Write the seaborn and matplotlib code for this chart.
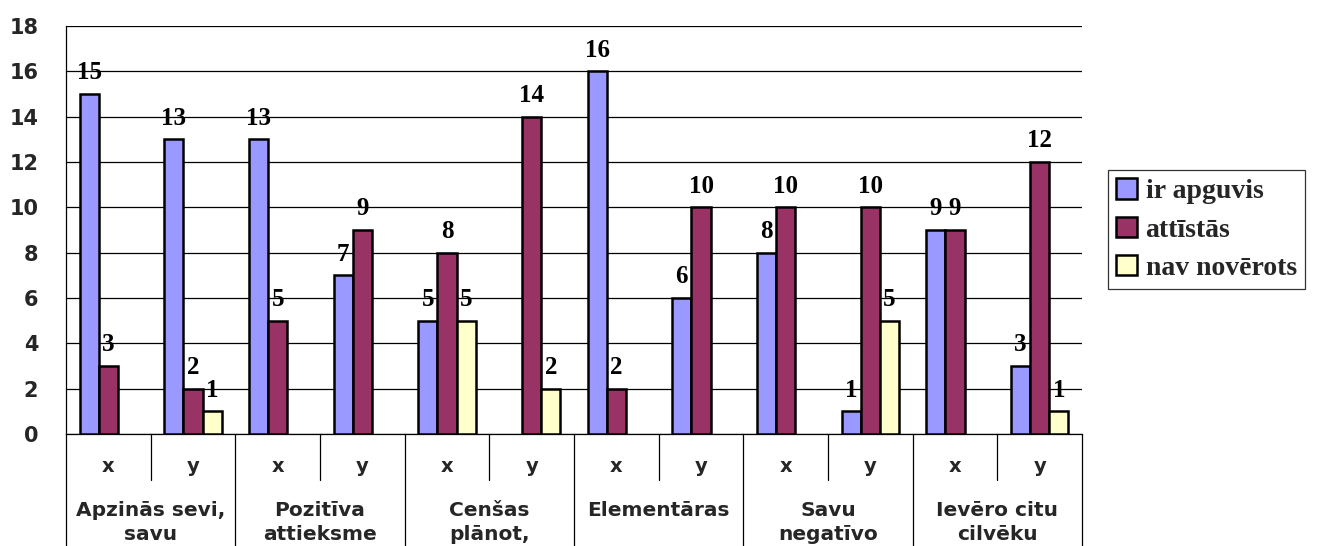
import matplotlib
matplotlib.use("Agg")
import matplotlib.pyplot as plt
import matplotlib.transforms as mtransforms
from matplotlib.patches import Patch
import pandas as pd
import seaborn as sns

# --- data -------------------------------------------------------------
categories = ["Apzinās sevi,\nsavu", "Pozitīva\nattieksme", "Cenšas\nplānot,",
              "Elementāras", "Savu\nnegatīvo", "Ievēro citu\ncilvēku"]
sub_labels = ["x", "y"]
series = ["ir apguvis", "attīstās", "nav novērots"]

ir_apguvis = [15, 13, 13, 7, 5, None, 16, 6, 8, 1, 9, 3]
attistas = [3, 2, 5, 9, 8, 14, 2, 10, 10, 10, 9, 12]
nav_noverots = [None, 1, None, None, 5, 2, None, None, None, 5, None, 1]

colors = ["#9999FF", "#993366", "#FFFFCC"]

# --- long-format table ---------------------------------------------------
slots = [f"{c}|{s}" for c in categories for s in sub_labels]
rows = []
for name, vals in zip(series, [ir_apguvis, attistas, nav_noverots]):
    for slot, v in zip(slots, vals):
        if v is not None:
            rows.append({"slot": slot, "series": name, "value": v})
df = pd.DataFrame(rows)

# --- figure ---------------------------------------------------------------
sns.set_style("white")
plt.rcParams["font.family"] = ["DejaVu Sans"]

fig = plt.figure(figsize=(13.26, 5.46), dpi=100)
ax = fig.add_axes([66 / 1326, 1 - 434 / 546, (1082 - 66) / 1326, (434 - 26) / 546])

sns.barplot(data=df, x="slot", y="value", hue="series", order=slots,
            hue_order=series, palette=colors, saturation=1, width=0.68,
            edgecolor="black", linewidth=1.8, errorbar=None, legend=False,
            ax=ax, zorder=3)

# value labels above each bar
for cont in ax.containers:
    ax.bar_label(cont, fmt="%d", padding=7, fontfamily="Liberation Serif",
                 fontweight="bold", fontsize=18, color="black")

# y axis
ax.set_ylim(0, 18)
ax.set_xlim(-0.5, len(slots) - 0.5)
ax.set_yticks(range(0, 19, 2))
ax.yaxis.grid(True, color="black", linewidth=0.9, zorder=0)
ax.tick_params(axis="y", direction="out", length=9, width=0.9, color="black",
               labelsize=15, pad=11)
for lbl in ax.get_yticklabels():
    lbl.set_fontweight("bold")
ax.set_ylabel("")
ax.set_xlabel("")
ax.set_xticks([])
for side in ["top", "right"]:
    ax.spines[side].set_visible(False)
for side in ["left", "bottom"]:
    ax.spines[side].set_color("black")
    ax.spines[side].set_linewidth(0.9)

# two-level category axis
trans = mtransforms.blended_transform_factory(ax.transData, ax.transAxes)
ax_h = 434 - 26
for i in range(len(slots) + 1):
    x = i - 0.5
    depth = -120 / ax_h if i % 2 == 0 else -46 / ax_h
    ax.plot([x, x], [0, depth], transform=trans, color="black", lw=0.9,
            clip_on=False)
for i, slot in enumerate(slots):
    ax.text(i, -33 / ax_h, slot.split("|")[1], transform=trans, ha="center",
            va="center", fontsize=14, fontweight="bold")
for j, cat in enumerate(categories):
    ax.text(2 * j + 0.5, -67 / ax_h, cat, transform=trans, ha="center",
            va="top", fontsize=14.5, fontweight="bold", linespacing=1.3)

# legend
handles = [Patch(facecolor=c, edgecolor="black", linewidth=1.8) for c in colors]
leg = fig.legend(handles, series, loc="upper left",
                 bbox_to_anchor=(1108 / 1326, 1 - 170 / 546),
                 prop={"family": "Liberation Serif", "weight": "bold", "size": 20},
                 frameon=True, fancybox=False, shadow=False, handlelength=0.75,
                 handleheight=0.75, handletextpad=0.3, labelspacing=0.45,
                 borderpad=0.3, borderaxespad=0)
leg.get_frame().set_edgecolor("black")
leg.get_frame().set_linewidth(0.9)

fig.savefig("out.png", dpi=100)
